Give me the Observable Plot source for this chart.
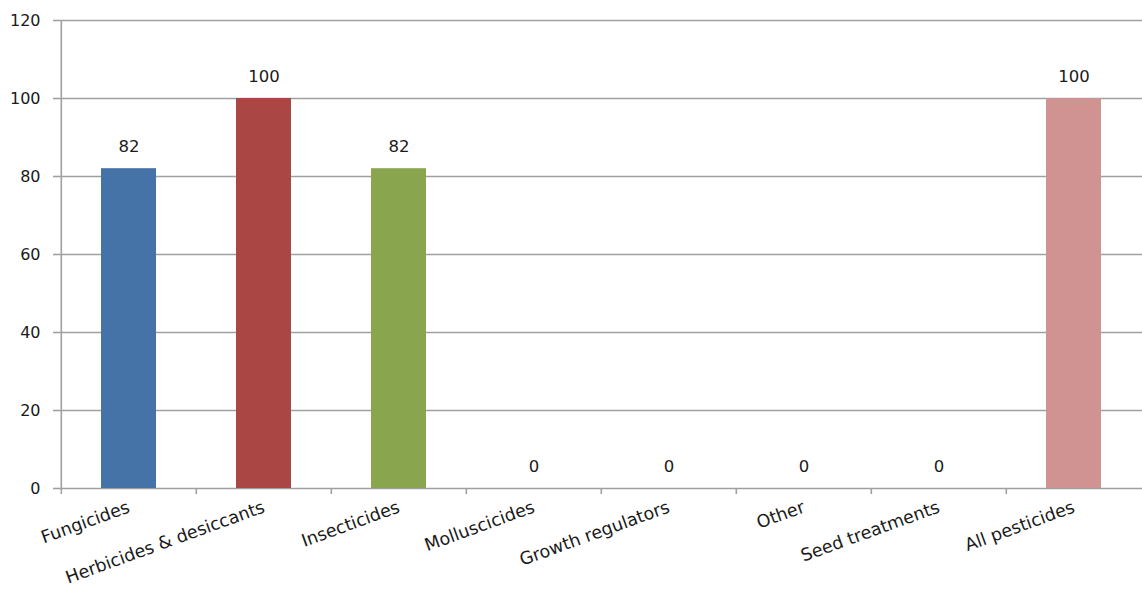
<!DOCTYPE html>
<html>
<head>
<meta charset="utf-8">
<script src="https://cdn.jsdelivr.net/npm/d3@7"></script>
<script src="https://cdn.jsdelivr.net/npm/@observablehq/plot@0.6"></script>
<style>
  html, body { margin: 0; padding: 0; background: #fff; }
  #chart svg { display: block; }
</style>
</head>
<body>
<div id="chart"></div>
<script>
const categories = ["Fungicides", "Herbicides & desiccants", "Insecticides", "Molluscicides", "Growth regulators", "Other", "Seed treatments", "All pesticides"];
const values = [82, 100, 82, 0, 0, 0, 0, 100];
const colors = ["#4572A7", "#AA4643", "#89A54E", "#7D5FA0", "#3D96AE", "#DB843D", "#93A9CF", "#D19392"];
const yTicks = [0, 20, 40, 60, 80, 100, 120];

const data = categories.map((c, i) => ({category: c, value: values[i], color: colors[i]}));

const W = 1142, H = 597;
const mL = 59, mR = 0, mT = 20, mB = 109;
const step = (W - mL - mR) / categories.length;
const grid = "#a0a0a0";

const chart = Plot.plot({
  width: W,
  height: H,
  marginLeft: mL,
  marginRight: mR,
  marginTop: mT,
  marginBottom: mB,
  style: {fontFamily: "'DejaVu Sans', sans-serif", fontSize: "16px", color: "#1a1a1a", background: "#fff"},
  x: {domain: categories, paddingInner: 0.594, paddingOuter: 0.297, align: 0.5, label: null},
  y: {domain: [0, 120], label: null},
  marks: [
    Plot.gridY(yTicks, {stroke: grid, strokeOpacity: 1, strokeWidth: 1.6}),
    Plot.axisY(yTicks, {tickSize: 6, tickPadding: 13, stroke: grid, strokeWidth: 1.6, fontSize: 16, label: null}),
    Plot.ruleX([0], {x: () => categories[0], dx: -step / 2, y1: 0, y2: 120, stroke: grid, strokeWidth: 1.6}),
    Plot.ruleX(categories, {x: d => d, dx: -step / 2, y1: 0, y2: 0, insetBottom: -6, stroke: grid, strokeWidth: 1.6}),
    Plot.barY(data, {x: "category", y: "value", fill: "color"}),
    Plot.text(data, {x: "category", y: "value", text: d => String(d.value), dy: -22, fontSize: 16.5, fill: "#1a1a1a"}),
    Plot.axisX({tickSize: 0, tickPadding: 18, tickRotate: -20, fontSize: 17.5, label: null})
  ]
});
document.getElementById("chart").appendChild(chart);
</script>
</body>
</html>
